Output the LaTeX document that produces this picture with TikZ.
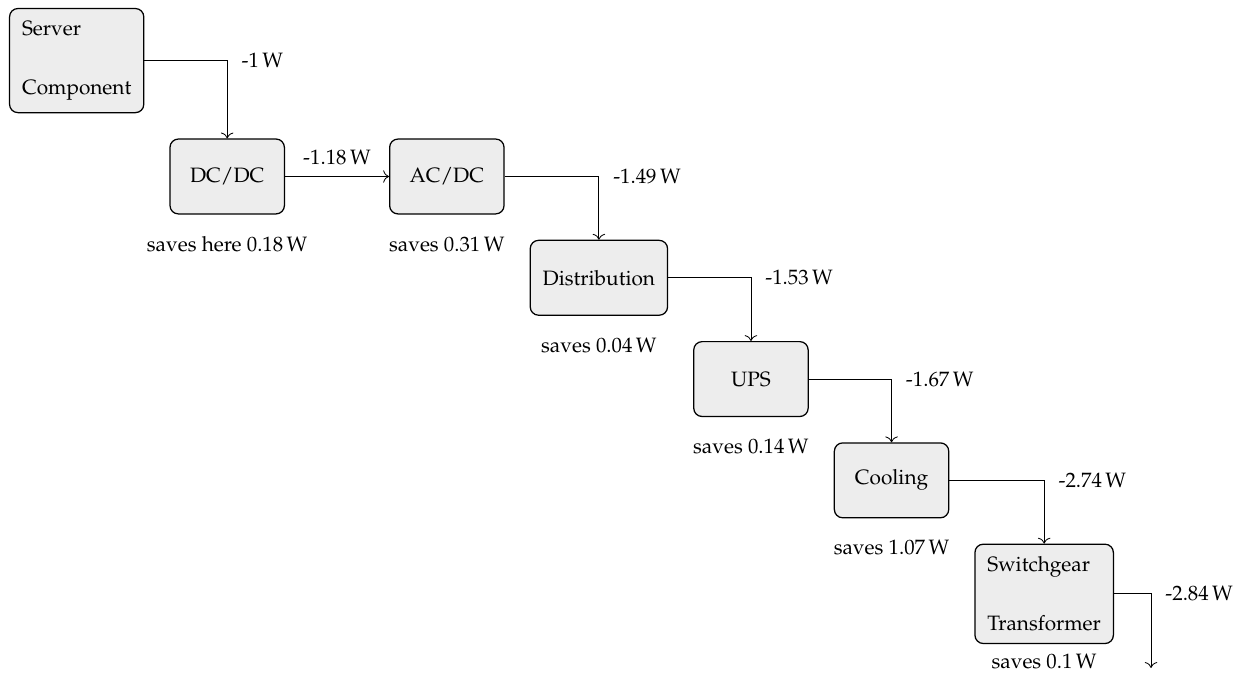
\documentclass[tikz,border=0pt]{standalone}
\usepackage[T1]{fontenc}
\usepackage{mathpazo}
\usepackage{tikz}
\usetikzlibrary{positioning,calc,arrows.meta}
\tikzset{
  stagebox/.style={draw,semithick,rounded corners=4pt,fill=black!7,minimum width=55pt,minimum height=36pt,inner sep=6pt,align=left},
  saving/.style={node distance=32.5pt},
  loss/.style={pos=0.5,right=3.4pt},
}

\begin{document}
\begin{tikzpicture}[->,>={To[length=2.8pt,width=6pt]},node distance=12.1pt and 12pt]

\node[stagebox] (server) {Server\\[16.3pt]Component};
\node[stagebox,below right=of server] (dcdc) {DC/DC};
\node[stagebox,right=50pt of dcdc] (acdc) {AC/DC};
\node[stagebox,below right=of acdc] (dist) {Distribution};
\node[stagebox,below right=of dist] (ups) {UPS};
\node[stagebox,below right=of ups] (cool) {Cooling};
\node[stagebox,below right=of cool] (swgear) {Switchgear\\[16.3pt]Transformer};
\coordinate (grid) at ($(swgear.east)+(17.8pt,-35.6pt)$);

\useasboundingbox ($(server.north west)+(-4.3pt,3.8pt)$) rectangle ++(598.6pt,-324.5pt);

% what each stage saves
\node[saving,below of=dcdc] (sdcdc) {saves here 0.18\,W};
\node[saving,below of=acdc] (sacdc) {saves 0.31\,W};
\node[saving,below of=dist] (sdist) {saves 0.04\,W};
\node[saving,below of=ups] (sups) {saves 0.14\,W};
\node[saving,below of=cool] (scool) {saves 1.07\,W};
\node[saving,below of=swgear] (sswgear) {saves 0.1\,W};

\draw (server) -| node[loss] {-1\,W} (dcdc);
\draw (dcdc) -- node[above=2pt] {-1.18\,W} (acdc);
\draw (acdc) -| node[loss] {-1.49\,W} (dist);
\draw (dist) -| node[loss] {-1.53\,W} (ups);
\draw (ups) -| node[loss] {-1.67\,W} (cool);
\draw (cool) -| node[loss] {-2.74\,W} (swgear);
\draw (swgear) -| node[loss] {-2.84\,W} (grid);

\end{tikzpicture}
\end{document}
